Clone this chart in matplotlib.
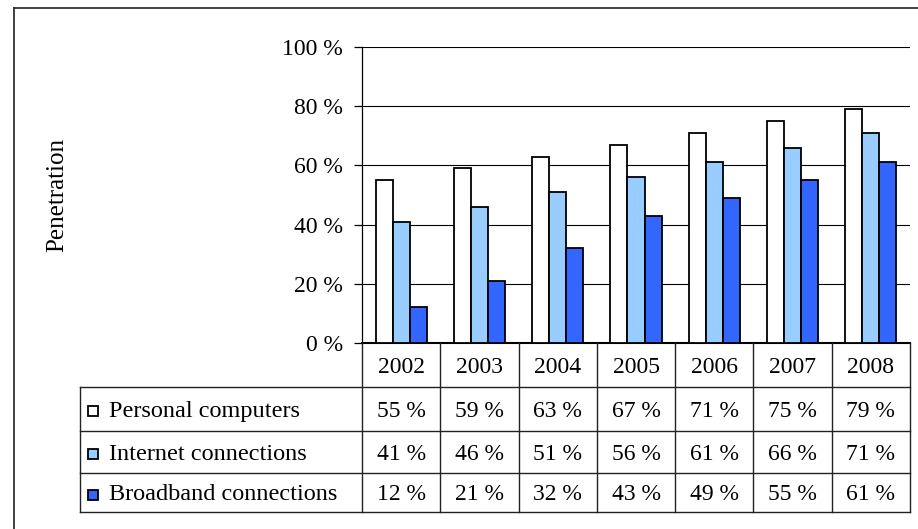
import matplotlib
matplotlib.use("Agg")
import matplotlib.pyplot as plt
from matplotlib.lines import Line2D

years = ["2002", "2003", "2004", "2005", "2006", "2007", "2008"]
series_names = ["Personal computers", "Internet connections", "Broadband connections"]
pc = [55, 59, 63, 67, 71, 75, 79]
internet = [41, 46, 51, 56, 61, 66, 71]
broadband = [12, 21, 32, 43, 49, 55, 61]
yticks = [0, 20, 40, 60, 80, 100]
colors = ["#FFFFFF", "#99CCFF", "#3366FF"]

plt.rcParams['font.family'] = ['Liberation Serif', 'DejaVu Serif']
FS = 17
FS_LEG = 17.5
FS_YLAB = 18

W, H = 918, 529
fig = plt.figure(figsize=(W / 100, H / 100), dpi=100)

# outer frame (left & top visible)
fig.add_artist(Line2D([14 / W, 14 / W], [0, 1 - 8 / H], color="#333333", lw=1.3))
fig.add_artist(Line2D([14 / W, 1], [1 - 8 / H, 1 - 8 / H], color="#333333", lw=1.3))

px_left, px_right, px_top, px_zero = 362, 910, 47, 343
ax = fig.add_axes([px_left / W, 1 - px_zero / H, (px_right - px_left) / W, (px_zero - px_top) / H])
ax.set_xlim(-0.5, 6.5)
ax.set_ylim(0, 100)
x = list(range(len(years)))
bw = 0.218
for k, vals in enumerate([pc, internet, broadband]):
    ax.bar([xi + (k - 1) * bw for xi in x], vals, width=bw, color=colors[k],
           edgecolor="black", linewidth=1.3, zorder=3)
ax.set_yticks(yticks)
ax.set_yticklabels([f"{t} %" for t in yticks], fontsize=FS)
ax.tick_params(axis="y", direction="out", length=5.8, width=0.9, pad=8)
ax.set_xticks([])
ax.yaxis.grid(True, color="black", lw=0.8, zorder=0)
ax.set_axisbelow(True)
for s in ["top", "right"]:
    ax.spines[s].set_visible(False)
ax.spines["left"].set_linewidth(0.9)
ax.spines["bottom"].set_linewidth(1.5)

fig.text(57 / W, 1 - 195 / H, "Penetration", rotation=90, fontsize=FS_YLAB, ha="center", va="center")

# data table
tbl_left, tbl_bottom = 80, 512
unit = (px_right - px_left) / 7.0
x0 = -0.5 - (px_left - tbl_left) / unit
tax = fig.add_axes([tbl_left / W, 1 - tbl_bottom / H, (px_right - tbl_left) / W, (tbl_bottom - px_zero) / H])
tax.set_xlim(x0, 6.5)
tax.set_ylim(4, 0)
tax.axis("off")
row_edges = [0, 1.04, 2.08, 3.08, 4.0]
lc = "#222222"
lw = 1.0
for i in range(8):
    xe = i - 0.5
    tax.plot([xe, xe], [0, 4], color=lc, lw=lw, clip_on=False)
tax.plot([x0, x0], [row_edges[1], 4], color=lc, lw=lw, clip_on=False)
for r in row_edges[1:]:
    tax.plot([x0, 6.5], [r, r], color=lc, lw=lw, clip_on=False)
dy = 0.05
for i, yr in enumerate(years):
    tax.text(i, (row_edges[0] + row_edges[1]) / 2 + dy, yr, ha="center", va="center", fontsize=FS)
for r, (name, vals) in enumerate(zip(series_names, [pc, internet, broadband])):
    yc = (row_edges[r + 1] + row_edges[r + 2]) / 2
    tax.plot([x0 + 13 / unit], [yc + dy], marker="s", markersize=7.5, markerfacecolor=colors[r],
             markeredgecolor="black", markeredgewidth=1.3, clip_on=False)
    tax.text(x0 + 29 / unit, yc + dy, name, ha="left", va="center", fontsize=FS_LEG)
    for i, v in enumerate(vals):
        tax.text(i, yc + dy, f"{v} %", ha="center", va="center", fontsize=FS)

fig.savefig("out.png", dpi=100)
